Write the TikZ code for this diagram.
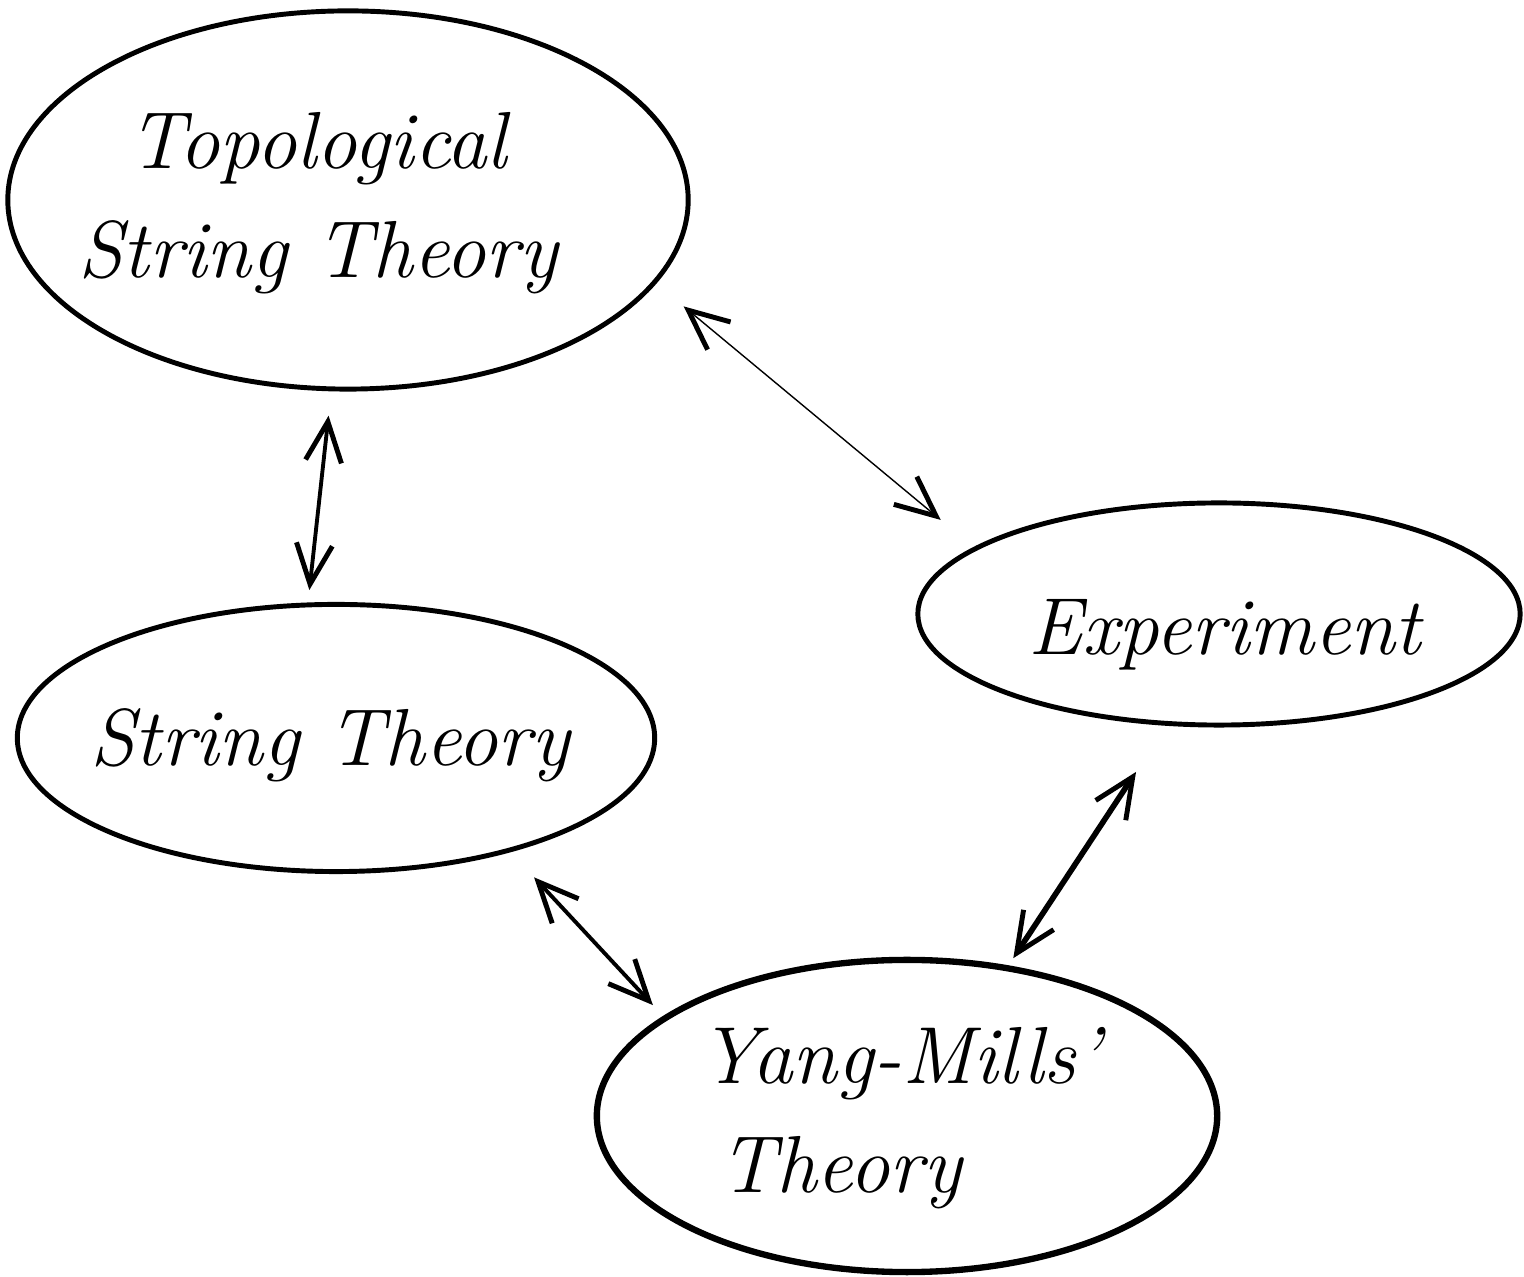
\documentclass[tikz,border=0pt]{standalone}
\usetikzlibrary{shapes.geometric,arrows.meta}
\begin{document}
\begin{tikzpicture}[x=0.01cm,y=-0.01cm,
  blob/.style={ellipse,draw,line width=1.4pt,inner sep=0pt,outer sep=0pt},
  hand/.style={font=\fontsize{23}{31}\selectfont\itshape,align=center,inner sep=0pt},
  dbl/.style={line width=1.1pt,{Straight Barb[length=0.4cm,width=0.36cm,line width=1.4pt]}-{Straight Barb[length=0.4cm,width=0.36cm,line width=1.4pt]}}]
\useasboundingbox (0,0) rectangle (1524,1277);
% ellipses
\node[blob,minimum width=6.8cm,minimum height=3.78cm] (topo) at (348,200) {};
\node[blob,minimum width=6.37cm,minimum height=2.67cm] (str) at (336,738) {};
\node[blob,minimum width=6.02cm,minimum height=2.22cm] (exp) at (1219,614) {};
\node[blob,line width=1.8pt,minimum width=6.2cm,minimum height=3.12cm] (ym) at (907,1116) {};
% texts
\node[hand] (topoT) at (318,203) {Topological\\String Theory};
\node[hand] (strT) at (330,745) {String Theory};
\node[hand] (expT) at (1225,635) {Experiment};
\node[hand,align=left] (ymT) at (900,1118) {Yang-Mills'\\\hspace*{0.2cm}Theory};
% connectors
\draw[dbl,line width=0.4pt,shorten <=0.38cm,shorten >=0.45cm] (topo.-15.7) -- (exp.165.3);
\draw[dbl,shorten <=0.27cm,shorten >=0.15cm] (topo.-95.5) -- (str.102.5);
\draw[dbl,shorten <=0.37cm,shorten >=0.18cm] (str.-33.8) -- (ym.158.8);
\draw[dbl,line width=1.6pt,shorten <=0.58cm,shorten >=0.12cm] (exp.-115.5) -- (ym.56.4);
\end{tikzpicture}
\end{document}
